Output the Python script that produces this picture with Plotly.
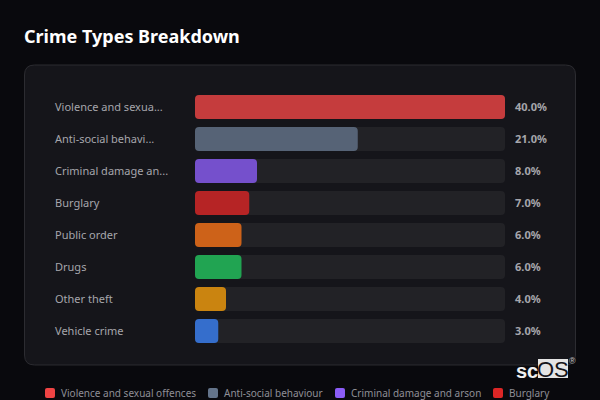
import plotly.graph_objects as go

# crime share per category
categories = ["Violence and sexual offences", "Anti-social behaviour", "Criminal damage and arson", "Burglary",
              "Public order", "Drugs", "Other theft", "Vehicle crime"]
short_labels = ["Violence and sexua...", "Anti-social behavi...", "Criminal damage an...", "Burglary",
                "Public order", "Drugs", "Other theft", "Vehicle crime"]
values = [40.0, 21.0, 8.0, 7.0, 6.0, 6.0, 4.0, 3.0]
colors = ["#ef4444", "#64748b", "#8b5cf6", "#dc2626", "#f97316", "#22c55e", "#f59e0b", "#3b82f6"]
legend_names = categories[:4]  # the rest of the legend falls off the page
legend_colors = colors[:4]

W, H = 600, 400
ML, MR, MT, MB = 195, 95, 91, 53
FONT = "Noto Sans"
BG = "#09090d"
PANEL = "#15151a"

# page pixels to paper coordinates
def px(x):
    return (x - ML) / (W - ML - MR)

def py(y):
    return 1 - (y - MT) / (H - MT - MB)

def round_rect(x0, y0, x1, y1, r):
    return (f"M {px(x0 + r):.5f} {py(y0):.5f} L {px(x1 - r):.5f} {py(y0):.5f} Q {px(x1):.5f} {py(y0):.5f} {px(x1):.5f} {py(y0 + r):.5f} "
            f"L {px(x1):.5f} {py(y1 - r):.5f} Q {px(x1):.5f} {py(y1):.5f} {px(x1 - r):.5f} {py(y1):.5f} "
            f"L {px(x0 + r):.5f} {py(y1):.5f} Q {px(x0):.5f} {py(y1):.5f} {px(x0):.5f} {py(y1 - r):.5f} "
            f"L {px(x0):.5f} {py(y0 + r):.5f} Q {px(x0):.5f} {py(y0):.5f} {px(x0 + r):.5f} {py(y0):.5f} Z")

# plotly only rounds the far end of a bar, so mask the two corners at the base
def base_corners(y0, y1, r):
    x = ML
    return (f"M {px(x):.5f} {py(y0):.5f} L {px(x + r):.5f} {py(y0):.5f} Q {px(x):.5f} {py(y0):.5f} {px(x):.5f} {py(y0 + r):.5f} Z "
            f"M {px(x):.5f} {py(y1):.5f} L {px(x + r):.5f} {py(y1):.5f} Q {px(x):.5f} {py(y1):.5f} {px(x):.5f} {py(y1 - r):.5f} Z")

fig = go.Figure()
# background track, same length for every row
fig.add_trace(go.Bar(x=[max(values)] * len(categories), y=categories, orientation="h",
                     marker=dict(color="#222226", cornerradius=4, line=dict(width=0)), hoverinfo="skip"))
# fill bars sit on their own axes, sharing the track's bar only squares off their ends
fig.add_trace(go.Bar(x=values, y=categories, orientation="h", xaxis="x2", yaxis="y2",
                     marker=dict(color=colors, opacity=0.8, cornerradius=4, line=dict(width=0))))

annotations = []
for cat, lab, v in zip(categories, short_labels, values):
    annotations.append(dict(x=0, y=cat, xref="paper", yref="y", text=lab, showarrow=False, xanchor="left",
                            xshift=-142, yshift=1, font=dict(family=FONT, size=11, color="#a6a6ac")))
    annotations.append(dict(x=max(values), y=cat, xref="x", yref="y", text=f"<b>{v:.1f}%</b>", showarrow=False,
                            xanchor="left", xshift=8, yshift=1, font=dict(family=FONT, size=11, color="#a6a6ac")))

annotations.append(dict(x=px(24), y=py(36), xref="paper", yref="paper", text="<b>Crime Types Breakdown</b>",
                        showarrow=False, xanchor="left", yanchor="middle", xshift=-2,
                        font=dict(family=FONT, size=18, color="#ffffff")))

shapes = [dict(type="path", xref="paper", yref="paper", path=round_rect(24.5, 65, 575.5, 365, 10),
               fillcolor=PANEL, line=dict(color="#2c2c31", width=1), layer="below")]

for i in range(len(categories)):
    top = MT + 32 * i + 4
    shapes.append(dict(type="path", xref="paper", yref="paper", path=base_corners(top, top + 24, 4),
                       fillcolor=PANEL, line=dict(width=0), layer="above"))

# legend row along the bottom edge
legend_x = [45, 208, 335, 493]
for name, col, lx in zip(legend_names, legend_colors, legend_x):
    shapes.append(dict(type="path", xref="paper", yref="paper", path=round_rect(lx, 388, lx + 10, 398, 2),
                       fillcolor=col, line=dict(width=0), layer="above"))
    annotations.append(dict(x=px(lx + 16), y=py(393), xref="paper", yref="paper", text=name, showarrow=False,
                            xanchor="left", yanchor="middle", xshift=-2,
                            font=dict(family=FONT, size=10, color="#8f8f96")))

# logo bottom right
shapes.append(dict(type="rect", xref="paper", yref="paper", x0=px(538), x1=px(568), y0=py(359), y1=py(378),
                   fillcolor="#e4e4e4", line=dict(width=0), layer="above"))
annotations.append(dict(x=px(538), y=py(371), xref="paper", yref="paper", text="<b>sc</b>", showarrow=False,
                        xanchor="right", yanchor="middle", xshift=2,
                        font=dict(family="Liberation Sans", size=20, color="#f0f0f0")))
annotations.append(dict(x=px(553), y=py(369), xref="paper", yref="paper", text="OS", showarrow=False,
                        xanchor="center", yanchor="middle",
                        font=dict(family="Liberation Sans", size=22, color="#15151a")))
annotations.append(dict(x=px(572), y=py(361), xref="paper", yref="paper", text="®", showarrow=False,
                        xanchor="center", yanchor="middle",
                        font=dict(family="Liberation Sans", size=9, color="#c0c0c0")))

fig.update_layout(width=W, height=H, margin=dict(l=ML, r=MR, t=MT, b=MB), barmode="overlay", bargap=0.25,
                  paper_bgcolor=BG, plot_bgcolor="rgba(0,0,0,0)", showlegend=False,
                  annotations=annotations, shapes=shapes, font=dict(family=FONT),
                  xaxis=dict(range=[0, max(values)], visible=False, fixedrange=True),
                  yaxis=dict(autorange="reversed", visible=False, fixedrange=True),
                  xaxis2=dict(range=[0, max(values)], visible=False, fixedrange=True, overlaying="x"),
                  yaxis2=dict(autorange="reversed", visible=False, fixedrange=True, overlaying="y"))

# drop the default page margin so the figure fills the window
fig.write_html("out.html", config={"displayModeBar": False},
               post_script=f"document.body.style.margin='0';document.body.style.background='{BG}';")
